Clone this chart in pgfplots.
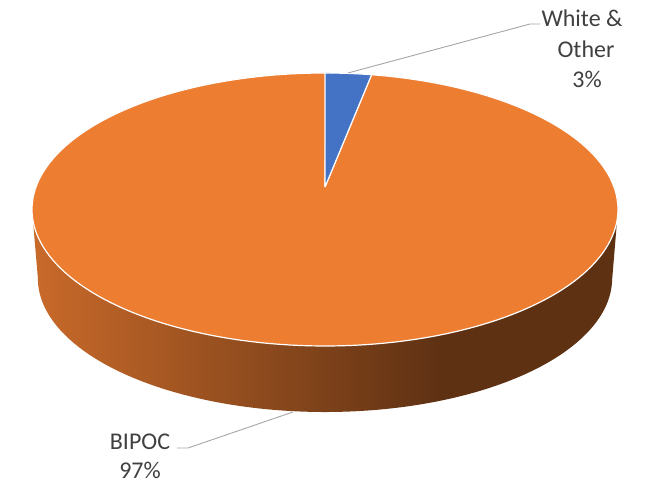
\documentclass[border=0pt]{standalone}
\usepackage{pgfplots}
\pgfplotsset{compat=1.18}
\usepackage{fontspec}
\setmainfont{Carlito}
\definecolor{blueS}{HTML}{4472C4}
\definecolor{orangeS}{HTML}{ED7D31}
\definecolor{sideL}{HTML}{C96A2A}
\definecolor{sideD}{HTML}{5E3113}
\definecolor{lbl}{HTML}{404040}
\definecolor{lead}{HTML}{A6A6A6}
\pgfdeclarehorizontalshading{pieside}{100bp}{color(0bp)=(sideL); color(25bp)=(sideL); color(60bp)=(sideD); color(100bp)=(sideD)}
% data (percent)
\def\valWhite{3}
\def\valBIPOC{97}
\pgfmathsetmacro\angW{360*\valWhite/(\valWhite+\valBIPOC)}
\begin{document}
\begin{tikzpicture}
\begin{axis}[
  scale only axis, width=649pt, height=484pt,
  xmin=-325, xmax=324, ymin=-297, ymax=187,
  hide axis, clip=false,
  declare function={
    px(\a)=289*sin(\a)/(1+0.1648*cos(\a));
    py(\a)=132.8*cos(\a)/(1+0.1648*cos(\a));
  },
]
% full canvas extent (invisible)
\addplot[draw=none, mark=none] coordinates {(-325,-297) (324,187)};
% side (hull of top back arc and bottom front arc)
\addplot[draw=none, shade, shading=pieside, variable=\t, samples at={0,0.005,...,2.001}]
  ({(\t<1.0025) ? px(260.515+\t*198.97) : 0.98*px(99.485+(\t-1)*161.03)},
   {(\t<1.0025) ? py(260.515+\t*198.97) : 0.98*py(99.485+(\t-1)*161.03)-69.2});
% BIPOC top sector
\addplot[fill=orangeS, draw=white, line width=1.2pt, line join=round, variable=\t, samples at={-1,0,0.005,...,1.001,2}]
  ({(\t<-0.5 || \t>1.5) ? 0 : px(\angW+(360-\angW)*\t)},
   {(\t<-0.5 || \t>1.5) ? 0 : py(\angW+(360-\angW)*\t)});
% White & Other top sector
\addplot[fill=blueS, draw=white, line width=1.2pt, line join=round, variable=\t, samples at={-1,0,0.05,...,1.001,2}]
  ({(\t<-0.5 || \t>1.5) ? 0 : px(\angW*\t)},
   {(\t<-0.5 || \t>1.5) ? 0 : py(\angW*\t)});
% leader lines
\addplot[lead, line width=0.9pt] coordinates {(23,114) (205,163) (215,163)};
\addplot[lead, line width=0.9pt] coordinates {(-32,-225) (-137,-261) (-148,-261)};
% labels
\begin{scope}[every node/.style={text=lbl, font=\fontsize{24}{29}\selectfont, anchor=base, inner sep=0pt}]
\node at (axis cs:257,160) {White \&};
\node at (axis cs:261,129) {Other};
\node at (axis cs:262,99) {3\%};
\node at (axis cs:-185,-263) {BIPOC};
\node at (axis cs:-185,-292) {97\%};
\end{scope}
\end{axis}
\end{tikzpicture}
\end{document}
